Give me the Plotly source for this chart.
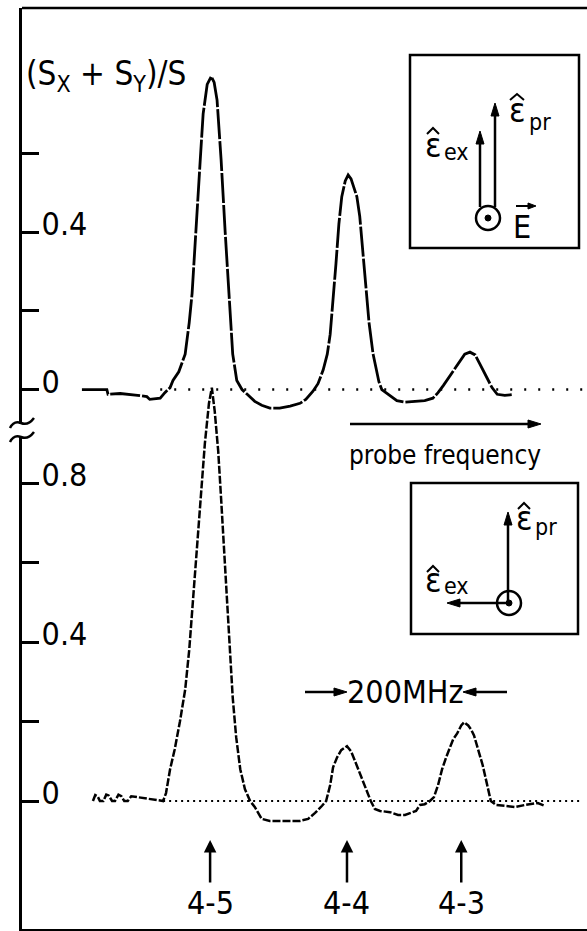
import plotly.graph_objects as go

# Probe detuning (MHz, relative to the F=4 -> F'=4 line) and normalised signal (Sx+Sy)/S
# Upper trace: excitation and probe polarisations parallel
top_freq = [-457, -414, -412, -391, -365, -345, -340, -322, -314, -305, -300, -290,
            -279, -272, -267, -260, -253, -248, -241, -234, -229, -224, -217, -210,
            -203, -197, -190, -181, -172, -159, -147, -133, -116, -98, -81, -71,
            -59, -50, -41, -34, -29, -24, -19, -14, -9, -3, 2, 7, 12, 17, 22, 28,
            33, 38, 45, 50, 55, 60, 71, 86, 100, 117, 134, 148, 157, 166, 178,
            191, 203, 212, 221, 229, 240, 250, 259, 272, 284]
top_signal = [0.0, 0.0, -0.012, -0.01, -0.014, -0.018, -0.025, -0.022, -0.008, 0.005,
              0.023, 0.045, 0.09, 0.17, 0.245, 0.4, 0.583, 0.70, 0.775, 0.795, 0.78,
              0.735, 0.583, 0.4, 0.245, 0.09, 0.023, 0.0, -0.012, -0.03, -0.04,
              -0.047, -0.047, -0.042, -0.035, -0.025, -0.005, 0.015, 0.05, 0.09,
              0.14, 0.22, 0.32, 0.42, 0.49, 0.53, 0.545, 0.535, 0.515, 0.49, 0.44,
              0.34, 0.25, 0.17, 0.09, 0.05, 0.02, 0.0, -0.012, -0.028, -0.032,
              -0.03, -0.028, -0.022, -0.008, 0.01, 0.035, 0.065, 0.09, 0.095,
              0.088, 0.065, 0.035, 0.005, -0.012, -0.015, -0.013]

# Lower trace: excitation and probe polarisations perpendicular
bot_freq = [-438, -434, -430, -426, -420, -415, -411, -405, -400, -394, -389, -384,
            -378, -372, -317, -312, -305, -297, -288, -279, -272, -266, -259, -252,
            -245, -238, -233, -228, -222, -217, -212, -207, -202, -197, -191, -184,
            -176, -167, -159, -153, -147, -133, -107, -81, -67, -55, -43, -36, -29,
            -24, -17, -10, 0, 7, 14, 22, 31, 41, 48, 57, 74, 88, 100, 109, 119, 126,
            134, 143, 150, 157, 164, 171, 176, 183, 190, 197, 202, 209, 214, 219,
            226, 234, 241, 248, 257, 272, 290, 307, 319, 329, 341]
bot_signal = [0.0, 0.015, 0.012, 0.0, 0.0, 0.016, 0.014, 0.0, 0.0, 0.016, 0.012,
              0.0, 0.0, 0.012, 0.0, 0.02, 0.08, 0.13, 0.2, 0.28, 0.38, 0.5, 0.64,
              0.78, 0.9, 1.0, 1.04, 0.98, 0.88, 0.76, 0.64, 0.52, 0.38, 0.26, 0.16,
              0.08, 0.03, 0.0, -0.015, -0.03, -0.045, -0.05, -0.05, -0.05, -0.045,
              -0.03, -0.012, 0.0, 0.04, 0.085, 0.11, 0.128, 0.138, 0.125, 0.1, 0.07,
              0.035, 0.0, -0.02, -0.025, -0.028, -0.035, -0.035, -0.03, -0.025,
              -0.01, -0.008, 0.0, 0.01, 0.04, 0.08, 0.11, 0.13, 0.155, 0.17, 0.19,
              0.198, 0.19, 0.18, 0.165, 0.13, 0.09, 0.045, 0.0, -0.01, -0.012,
              -0.015, -0.01, -0.008, -0.005, -0.012]

# Hyperfine components F -> F'
line_freqs = [-236, 0, 197]
line_labels = ["4-5", "4-4", "4-3"]

# Axis ticks (labelled major ticks, unlabelled minor ticks)
top_tickvals = [0, 0.4]
top_ticktext = ["0", "0.4"]
top_minor = [0.2, 0.6]
bot_tickvals = [0, 0.4, 0.8]
bot_ticktext = ["0", "0.4", "0.8"]
bot_minor = [0.2, 0.6]

W, H = 587, 931
ML, MR, MT, MB = 22, 0, 8, 2
FONT = "DejaVu Sans Condensed, DejaVu Sans, sans-serif"
INK = "black"


def PX(x):
    return (x - ML) / (W - ML - MR)


def PY(y):
    return (H - MB - y) / (H - MT - MB)


fig = go.Figure()
fig.add_trace(go.Scatter(x=top_freq, y=top_signal, yaxis="y2", mode="lines",
                         line=dict(color=INK, width=2.8, dash="30px,2px"),
                         showlegend=False, hoverinfo="skip"))
fig.add_trace(go.Scatter(x=bot_freq, y=bot_signal, yaxis="y", mode="lines",
                         line=dict(color=INK, width=2.5, dash="8px,2px"),
                         showlegend=False, hoverinfo="skip"))

shapes = []
# dotted zero baselines
shapes.append(dict(type="line", xref="x", yref="y2", x0=-322, x1=420, y0=0, y1=0,
                   line=dict(color=INK, width=2.5, dash="2px,12px")))
shapes.append(dict(type="line", xref="x", yref="y", x0=-317, x1=420, y0=0, y1=0,
                   line=dict(color=INK, width=2, dash="2px,4px")))

# open right side of the frame
shapes.append(dict(type="rect", xref="paper", yref="paper", x0=PX(583), x1=PX(592),
                   y0=PY(926), y1=PY(11), fillcolor="white", line=dict(width=0)))
# top edge of the frame
shapes.append(dict(type="line", xref="paper", yref="paper", x0=0, x1=1.02, y0=1, y1=1,
                   line=dict(color=INK, width=2.5)))


def rect(x0, y0, x1, y1):
    return dict(type="rect", xref="paper", yref="paper", x0=PX(x0), x1=PX(x1),
                y0=PY(y1), y1=PY(y0), line=dict(color=INK, width=2.5))


def circle(cx, cy, r, fill=None, width=2.5):
    return dict(type="circle", xref="paper", yref="paper",
                x0=PX(cx - r), x1=PX(cx + r), y0=PY(cy + r), y1=PY(cy - r),
                line=dict(color=INK, width=width),
                fillcolor=fill if fill else "rgba(0,0,0,0)")


def path(points, width=2.5, close=False, fill=None):
    s = "M " + " L ".join(f"{PX(x):.5f},{PY(y):.5f}" for x, y in points)
    if close:
        s += " Z"
    return dict(type="path", xref="paper", yref="paper", path=s,
                line=dict(color=INK, width=width),
                fillcolor=fill if fill else "rgba(0,0,0,0)")


def arrow(tail, tip, head_len=13, head_half=4, width=2.5):
    """Straight arrow drawn as a stem plus a filled head."""
    (x0, y0), (x1, y1) = tail, tip
    dx, dy = x1 - x0, y1 - y0
    n = (dx * dx + dy * dy) ** 0.5
    ux, uy = dx / n, dy / n
    bx, by = x1 - ux * head_len, y1 - uy * head_len
    px_, py_ = -uy * head_half, ux * head_half
    return [path([(x0, y0), (bx, by)], width=width),
            path([(x1, y1), (bx + px_, by + py_), (bx - px_, by - py_)],
                 width=1, close=True, fill=INK)]


def squiggle(y):
    f = lambda p: f"{PX(p[0]):.5f},{PY(p[1]):.5f}"
    d = (f"M {f((10, y))} Q {f((14, y - 8))} {f((21, y - 5))} "
         f"Q {f((28, y - 2))} {f((34, y - 10))}")
    return dict(type="path", xref="paper", yref="paper", path=d,
                line=dict(color=INK, width=2.5))


# inset frames
shapes.append(rect(410, 55, 579, 248))
shapes.append(rect(411, 483, 578, 634))

# upper inset: E out of plane, both polarisations vertical
shapes.append(circle(488, 218, 12))
shapes.append(circle(488, 218, 3, fill=INK, width=1))
shapes += arrow((480, 207), (480, 131))
shapes += arrow((495, 207), (495, 103))
shapes += arrow((516, 206), (536, 206), head_len=8, head_half=3, width=2)
shapes.append(path([(510, 100), (517, 94), (524, 100)], width=2))
shapes.append(path([(427, 134), (433, 128), (439, 134)], width=2))

# lower inset: perpendicular polarisations
shapes.append(circle(509, 603, 12))
shapes.append(circle(509, 603, 3, fill=INK, width=1))
shapes += arrow((508, 603), (508, 512))
shapes += arrow((509, 603), (447, 603))
shapes.append(path([(518, 509), (524, 503), (530, 509)], width=2))
shapes.append(path([(427, 572), (433, 566), (439, 572)], width=2))

# probe frequency direction
shapes += arrow((350, 424), (541, 424))

# 200 MHz scale bar
shapes += arrow((305, 692), (347, 692))
shapes += arrow((507, 692), (463, 692))

# axis break on the ordinate
shapes.append(dict(type="rect", xref="paper", yref="paper", x0=PX(15), x1=PX(30),
                   y0=PY(436), y1=PY(424), fillcolor="white", line=dict(width=0)))
shapes.append(squiggle(428))
shapes.append(squiggle(442))

annotations = []


def label(text, x, y, size, xanchor="left", yanchor="middle"):
    return dict(xref="paper", yref="paper", x=PX(x), y=PY(y), text=text,
                showarrow=False, xanchor=xanchor, yanchor=yanchor,
                font=dict(family=FONT, size=size, color=INK))


# polarisation labels
annotations.append(label("ε", 517, 110, 34, xanchor="center"))
annotations.append(label("pr", 527, 122, 23))
annotations.append(label("ε", 433, 145, 34, xanchor="center"))
annotations.append(label("ex", 442, 152, 23))
annotations.append(label("E", 522, 227, 32, xanchor="center"))
annotations.append(label("ε", 524, 518, 34, xanchor="center"))
annotations.append(label("pr", 533, 527, 23))
annotations.append(label("ε", 433, 580, 34, xanchor="center"))
annotations.append(label("ex", 442, 586, 23))

# ordinate title
annotations.append(label("(S<sub>X</sub> + S<sub>Y</sub>)/S", 24, 75, 33))

annotations.append(label("probe frequency", 445, 455, 26, xanchor="center"))
annotations.append(label("200MHz", 405, 692, 32, xanchor="center"))

# hyperfine component markers
for fx, name in zip(line_freqs, line_labels):
    annotations.append(dict(xref="x", yref="y", x=fx, y=-0.098, text=name,
                            showarrow=True, axref="pixel", ayref="pixel", ax=0, ay=63,
                            arrowhead=2, arrowsize=1, arrowwidth=2.5, arrowcolor=INK,
                            standoff=0, font=dict(family=FONT, size=32, color=INK)))

axis_common = dict(showline=True, linecolor=INK, linewidth=3, ticks="inside",
                   ticklen=17, tickwidth=2.5, tickcolor=INK,
                   ticklabelposition="inside", ticklabelstandoff=6,
                   ticklabelshift=-8, showgrid=False, zeroline=False,
                   tickfont=dict(family=FONT, size=32, color=INK))

fig.update_layout(
    width=W, height=H,
    margin=dict(l=ML, r=MR, t=MT, b=MB),
    paper_bgcolor="white", plot_bgcolor="white",
    showlegend=False,
    xaxis=dict(range=[-560.3, 413.8], showline=True, mirror=False, linecolor=INK,
               linewidth=2.5, ticks="", showticklabels=False, showgrid=False,
               zeroline=False),
    yaxis=dict(range=[-0.322, 1.995], tickvals=bot_tickvals, ticktext=bot_ticktext,
               minor=dict(tickvals=bot_minor, ticks="inside", ticklen=17,
                          tickwidth=2.5, tickcolor=INK, showgrid=False),
               **axis_common),
    yaxis2=dict(range=[-1.370, 0.969], tickvals=top_tickvals, ticktext=top_ticktext,
                minor=dict(tickvals=top_minor, ticks="inside", ticklen=17,
                           tickwidth=2.5, tickcolor=INK, showgrid=False),
                overlaying="y", anchor="x", side="left", **axis_common),
    shapes=shapes,
    annotations=annotations,
)

fig.write_html("out.html")
